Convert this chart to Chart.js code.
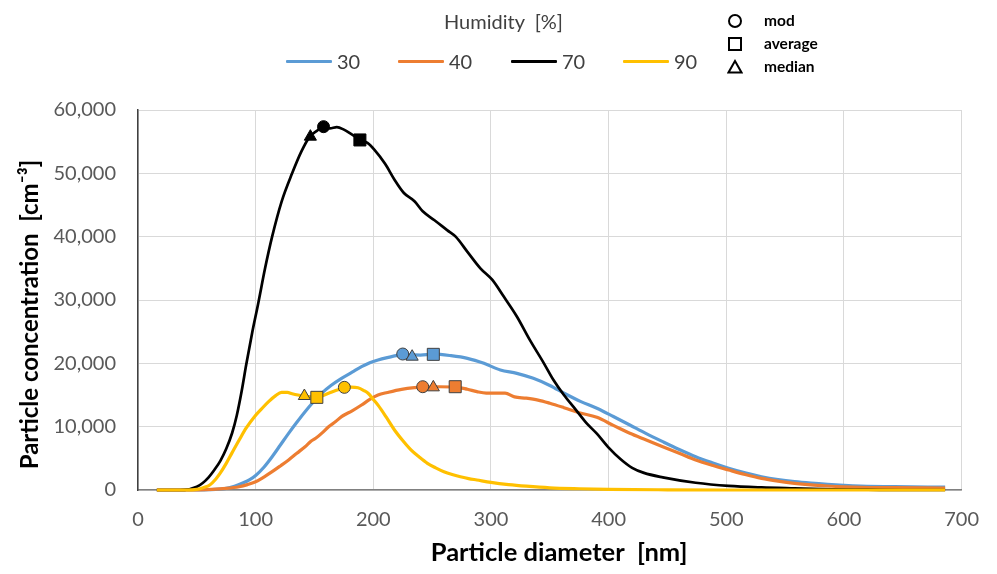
<!DOCTYPE html>
<html lang="en">
<head>
<meta charset="UTF-8">
<title>Particle size distribution vs humidity</title>
<script src="https://cdn.jsdelivr.net/npm/chart.js@4.4.0/dist/chart.umd.min.js"></script>
<style>
  body { margin: 0; background: #fff; font-family: Lato, "Noto Sans", sans-serif; }
  #wrap { position: relative; width: 997px; height: 574px; }
  #chart { position: absolute; left: 0; top: 0; }
  .abs { position: absolute; white-space: nowrap; }
  #humTitle { left: 444px; top: 9px; font-size: 20px; color: #404040; }
  .swatch { position: absolute; height: 3px; width: 46px; border-radius: 1px; }
  .slabel { position: absolute; font-size: 20px; color: #404040; line-height: 20px; }
  .mlabel { position: absolute; font-size: 15.5px; font-weight: bold; color: #000; line-height: 16px; }
</style>
</head>
<body>
<div id="wrap">
  <canvas id="chart" width="997" height="574"></canvas>
  <div id="humTitle" class="abs">Humidity&nbsp; [%]</div>
  <div id="legend"></div>
</div>

<script>
// humidity series
const humidity = ['30', '40', '70', '90'];
const colors = ['#5b9bd5', '#ed7d31', '#000000', '#ffc000'];

// particle diameter [nm] / concentration [cm-3]
const x30 = [16, 40, 60, 75, 82, 89, 95, 100, 107, 114, 121, 128, 135, 142, 149, 156, 164, 173, 182, 190, 197, 204, 212, 221, 230, 240, 251, 266, 280, 294, 308, 322, 336, 350, 363, 376, 390, 404, 418, 432, 446, 460, 474, 488, 502, 516, 530, 544, 558, 572, 586, 600, 614, 643, 686];
const y30 = [0, 0, 50, 260, 600, 1100, 1650, 2300, 3600, 5260, 7100, 8950, 10700, 12370, 13900, 15260, 16500, 17630, 18600, 19470, 20100, 20530, 20900, 21250, 21350, 21300, 21450, 21210, 20790, 20000, 18950, 18420, 17630, 16500, 15200, 14000, 12900, 11600, 10260, 8900, 7630, 6400, 5260, 4300, 3420, 2700, 2100, 1650, 1320, 1080, 890, 740, 630, 520, 450];

const x40 = [16, 40, 63, 75, 86, 93, 100, 107, 114, 121, 128, 135, 142, 147, 151, 157, 162, 168, 173, 182, 190, 197, 204, 212, 224, 235, 245, 256, 270, 280, 288, 296, 304, 312, 320, 330, 340, 350, 362, 375, 390, 404, 418, 432, 446, 460, 474, 488, 502, 516, 530, 544, 558, 572, 586, 600, 614, 643, 686];
const y40 = [0, 0, 100, 250, 520, 850, 1310, 2050, 2890, 3800, 4740, 5800, 6840, 7700, 8160, 9100, 10000, 10800, 11580, 12500, 13420, 14300, 15000, 15400, 15900, 16150, 16250, 16300, 16250, 15900, 15530, 15300, 15300, 15300, 14700, 14500, 14200, 13700, 13000, 12200, 11470, 10200, 8950, 7900, 6840, 5800, 4740, 3900, 3160, 2450, 1840, 1400, 1050, 800, 630, 500, 420, 370, 300];

const x70 = [16, 30, 40, 50, 55, 60, 65, 70, 75, 80, 84, 88, 92, 97, 102, 108, 114, 122, 131, 139, 146, 152, 158, 163, 169, 175, 182, 189, 195, 201, 210, 218, 226, 235, 242, 252, 263, 270, 280, 291, 301, 311, 322, 333, 345, 353, 362, 372, 381, 390, 400, 410, 420, 430, 446, 474, 502, 530, 558, 590, 620, 650, 686];
const y70 = [0, 0, 30, 500, 1100, 2000, 3200, 4600, 6500, 9000, 11800, 15500, 19800, 24800, 29300, 35000, 40000, 45500, 50000, 53500, 55800, 56700, 57400, 57100, 57300, 56900, 56100, 55300, 54800, 53700, 51500, 49000, 46900, 45600, 44000, 42600, 41000, 40000, 37600, 35000, 33200, 30500, 27400, 23700, 20000, 17400, 15000, 12700, 10600, 8900, 6700, 4900, 3500, 2700, 2000, 1150, 650, 400, 250, 100, 50, 0, 0];

const x90 = [16, 40, 50, 56, 61, 66, 70, 75, 80, 86, 92, 99, 105, 111, 117, 122, 127, 131, 136, 141, 147, 152, 157, 162, 168, 175, 181, 187, 192, 196, 200, 204, 211, 218, 225, 232, 239, 246, 253, 260, 267, 274, 281, 288, 300, 315, 330, 350, 375, 400, 450, 500, 686];
const y90 = [0, 0, 100, 400, 790, 1700, 2700, 4210, 5900, 7890, 9800, 11580, 12800, 13950, 14900, 15400, 15400, 15200, 15000, 14850, 14700, 14630, 14900, 15260, 15700, 16100, 16250, 16150, 15700, 15200, 14300, 13400, 11500, 9470, 7800, 6320, 5200, 4210, 3500, 2890, 2450, 2100, 1800, 1580, 1200, 850, 600, 350, 200, 100, 30, 0, 0];

// statistics markers, one value per humidity
const modX = [225, 242, 157.7, 175.4];
const modY = [21470, 16310, 57370, 16210];
const avgX = [251, 269.6, 188.6, 152];
const avgY = [21420, 16310, 55270, 14630];
const medX = [233, 251, 146.5, 141.4];
const medY = [21050, 16210, 55790, 14840];

const xTicks = [0, 100, 200, 300, 400, 500, 600, 700];
const yTicks = [0, 10000, 20000, 30000, 40000, 50000, 60000];

const seriesX = [x30, x40, x70, x90];
const seriesY = [y30, y40, y70, y90];
const lineOrder = [4, 3, 2, 1]; // yellow drawn on top, like the original

const datasets = [];
humidity.forEach((h, i) => {
  datasets.push({
    label: h,
    data: seriesX[i].map((x, j) => ({ x: x, y: seriesY[i][j] })),
    borderColor: colors[i],
    borderWidth: i === 2 ? 2.7 : 3.2,
    pointRadius: 0,
    showLine: true,
    fill: false,
    cubicInterpolationMode: 'monotone',
    clip: false,
    order: lineOrder[i]
  });
});
humidity.forEach((h, i) => {
  datasets.push({
    label: h + ' stats',
    data: [
      { x: modX[i], y: modY[i] },
      { x: avgX[i], y: avgY[i] },
      { x: medX[i], y: medY[i] }
    ],
    showLine: false,
    pointStyle: ['circle', 'rect', 'triangle'],
    pointRadius: [6, 8.5, 7],
    pointBackgroundColor: colors[i],
    pointBorderColor: i === 2 ? '#000000' : '#404040',
    pointBorderWidth: 1,
    clip: false,
    order: 0
  });
});

new Chart(document.getElementById('chart'), {
  type: 'scatter',
  data: { datasets: datasets },
  options: {
    responsive: false,
    animation: false,
    devicePixelRatio: 1,
    layout: { padding: { left: 0, top: 110, right: 29, bottom: 0 } },
    plugins: { legend: { display: false }, tooltip: { enabled: false } },
    scales: {
      x: {
        type: 'linear',
        min: 0,
        max: 700,
        afterFit: s => { s.height = 84; },
        afterBuildTicks: s => { s.ticks = xTicks.map(v => ({ value: v })); },
        ticks: { color: '#595959', font: { family: 'Lato', size: 20 }, padding: 18 },
        grid: { color: '#d9d9d9', drawTicks: false },
        border: { color: '#808080', width: 1.5 },
        title: {
          display: true,
          // leading spaces nudge the centred title a little to the right
          text: '\u00A0\u00A0\u00A0Particle diameter  [nm]',
          color: '#000',
          font: { family: 'Lato', size: 25.5, weight: 'bold' },
          padding: { top: 0, bottom: 6 }
        }
      },
      y: {
        min: 0,
        max: 60000,
        afterFit: s => { s.width = 138; },
        afterBuildTicks: s => { s.ticks = yTicks.map(v => ({ value: v })); },
        ticks: {
          color: '#595959',
          font: { family: 'Lato', size: 20 },
          padding: 22,
          callback: v => v.toLocaleString('en-US')
        },
        grid: { color: '#d9d9d9', drawTicks: false },
        border: { color: '#404040', width: 1.5 },
        title: {
          display: true,
          // trailing spaces push the rotated title a bit further down
          text: 'Particle concentration  [cm\u207B\u00B3]\u00A0\u00A0\u00A0\u00A0\u00A0',
          color: '#000',
          font: { family: 'Lato', size: 24, weight: 'bold' },
          padding: { top: 16, bottom: 0 }
        }
      }
    }
  }
});

// legend: humidity lines
const legend = document.getElementById('legend');
const swatchLeft = [286, 398, 511, 623];
humidity.forEach((h, i) => {
  const sw = document.createElement('div');
  sw.className = 'swatch';
  sw.style.left = swatchLeft[i] + 'px';
  sw.style.top = '60px';
  sw.style.background = colors[i];
  legend.appendChild(sw);
  const lb = document.createElement('div');
  lb.className = 'slabel';
  lb.style.left = (swatchLeft[i] + 51) + 'px';
  lb.style.top = '51px';
  lb.textContent = h;
  legend.appendChild(lb);
});

// legend: statistic symbols
const statNames = ['mod', 'average', 'median'];
const statShapes = [
  '<circle cx="8" cy="8" r="6" fill="#fff" stroke="#000" stroke-width="2"/>',
  '<rect x="2" y="2" width="12" height="12" fill="#fff" stroke="#000" stroke-width="2"/>',
  '<polygon points="8,2 14.5,13.5 1.5,13.5" fill="#fff" stroke="#000" stroke-width="2"/>'
];
const statTop = [13, 36, 59];
statNames.forEach((n, i) => {
  const sv = document.createElement('div');
  sv.className = 'abs';
  sv.style.left = '727px';
  sv.style.top = statTop[i] + 'px';
  sv.innerHTML = '<svg width="16" height="16">' + statShapes[i] + '</svg>';
  legend.appendChild(sv);
  const lb = document.createElement('div');
  lb.className = 'mlabel';
  lb.style.left = '764px';
  lb.style.top = (statTop[i] - 1) + 'px';
  lb.textContent = n;
  legend.appendChild(lb);
});
</script>
</body>
</html>
